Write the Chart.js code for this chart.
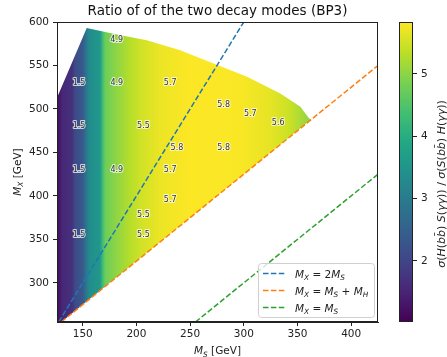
<!DOCTYPE html>
<html lang="en">
<head>
    <meta charset="UTF-8">
    <title>Ratio of of the two decay modes (BP3)</title>
    <script src="https://cdn.jsdelivr.net/npm/chart.js@4.4.0/dist/chart.umd.min.js"></script>
    <style>
        html, body { margin: 0; padding: 0; background: #fff; }
        .wrap { position: relative; width: 447px; height: 357px; }
        #main { position: absolute; left: 0; top: 0; }
        #cbar { position: absolute; left: 380px; top: 0; }
    </style>
</head>
<body>
<div class="wrap">
    <canvas id="main" width="447" height="357"></canvas>
    <canvas id="cbar" width="67" height="357"></canvas>
</div>
<script>
    // axis ranges and ticks
    const msRange = [126, 425]
    const mxRange = [255, 600]
    const msTicks = [150, 200, 250, 300, 350, 400]
    const mxTicks = [300, 350, 400, 450, 500, 550, 600]
    const cbRange = [1.02, 5.83]
    const cbTicks = [2, 3, 4, 5]

    // allowed region (M_S, M_X) outline
    const regionMs = [126, 130, 362.5, 360.5, 352.7, 334, 303, 271.8, 240.8, 209.7, 178.5, 153.7, 126]
    const regionMx = [255, 255, 487.5, 489.5, 502.5, 517.8, 536.9, 552.2, 567.5, 579, 586.6, 593.1, 513]

    // ratio read along M_S (colour of the map)
    const gradMs = [125.5, 128, 131, 140, 143, 150, 152, 156, 160, 166, 168.5, 171, 183, 194, 205, 222, 250, 297, 325, 343, 362]
    const gradRatio = [1.05, 1.3, 1.55, 1.7, 2.1, 2.35, 2.7, 3.3, 3.45, 3.55, 4.3, 4.75, 5.05, 5.3, 5.5, 5.7, 5.82, 5.8, 5.65, 5.45, 5.0]

    // printed values on the map
    const annMs = [181.6, 146.5, 181.7, 231.4, 281.2, 306, 332, 146.5, 206.5, 237.7, 281.2, 146.5, 181.7, 231.4, 231.4, 206.5, 146.5, 206.5]
    const annMx = [579.4, 529.7, 529.7, 529.7, 504.8, 494.5, 484.2, 480, 480, 455, 455, 429.5, 429.5, 429.5, 395, 378.7, 354.6, 354.6]
    const annVal = ['4.9', '1.5', '4.9', '5.7', '5.8', '5.7', '5.6', '1.5', '5.5', '5.8', '5.8', '1.5', '4.9', '5.7', '5.7', '5.5', '1.5', '5.5']

    // reference lines
    const blueMs = [127.5, 300]
    const blueMx = [255, 600]
    const orangeMs = [130, 425]
    const orangeMx = [255, 550]
    const greenMs = [255, 425]
    const greenMx = [255, 425]

    const FONT = "'DejaVu Sans', sans-serif"
    Chart.defaults.font.family = FONT
    Chart.defaults.font.size = 10.5
    Chart.defaults.color = '#222'

    const viridisLut = ['#440154', '#482475', '#414487', '#355f8d', '#2a788e', '#21918c',
        '#22a884', '#44bf70', '#7ad151', '#bddf26', '#fde725']

    function hexRgb(h) {
        return [parseInt(h.substr(1, 2), 16), parseInt(h.substr(3, 2), 16), parseInt(h.substr(5, 2), 16)]
    }

    function viridis(v) {
        let t = (v - cbRange[0]) / (cbRange[1] - cbRange[0])
        t = Math.max(0, Math.min(1, t)) * 10
        const i = Math.min(9, Math.floor(t))
        const f = t - i
        const a = hexRgb(viridisLut[i]), b = hexRgb(viridisLut[i + 1])
        const c = a.map((q, k) => Math.round(q + (b[k] - q) * f))
        return `rgb(${c[0]},${c[1]},${c[2]})`
    }

    function pts(xs, ys) {
        return xs.map((x, i) => ({x: x, y: ys[i]}))
    }

    // simple mathtext: letters italic, _X subscript
    function mt(str) {
        const parts = []
        for (let i = 0; i < str.length; i++) {
            let ch = str[i]
            let p
            if (ch === '_') {
                i++
                p = {t: str[i], it: true, sub: true}
            } else if (/[\u0300-\u036f]/.test(ch) && parts.length) {
                parts[parts.length - 1].t += ch
                continue
            } else {
                p = {t: ch, it: /[A-Za-zσγ]/.test(ch), sub: false}
            }
            const last = parts[parts.length - 1]
            if (last && last.it === p.it && last.sub === p.sub) last.t += p.t
            else parts.push(p)
        }
        return parts
    }

    function richFont(p, size) {
        return (p.it ? 'italic ' : '') + (p.sub ? size * 0.7 : size) + 'px ' + FONT
    }

    function richWidth(ctx, parts, size) {
        let w = 0
        parts.forEach(p => {
            ctx.font = richFont(p, size)
            w += ctx.measureText(p.t).width
        })
        return w
    }

    function drawRich(ctx, parts, x, y, size, center) {
        let cx = center ? x - richWidth(ctx, parts, size) / 2 : x
        ctx.textAlign = 'left'
        ctx.textBaseline = 'alphabetic'
        parts.forEach(p => {
            ctx.font = richFont(p, size)
            ctx.fillText(p.t, cx, p.sub ? y + size * 0.25 : y)
            cx += ctx.measureText(p.t).width
        })
    }

    function ratioGradient(chart) {
        if (!chart.chartArea) return 'rgba(0,0,0,0)'
        const xs = chart.scales.x
        const p0 = xs.getPixelForValue(gradMs[0])
        const p1 = xs.getPixelForValue(gradMs[gradMs.length - 1])
        const g = chart.ctx.createLinearGradient(p0, 0, p1, 0)
        gradMs.forEach((m, i) => {
            g.addColorStop((xs.getPixelForValue(m) - p0) / (p1 - p0), viridis(gradRatio[i]))
        })
        return g
    }

    function cbGradient(chart) {
        if (!chart.chartArea) return 'rgba(0,0,0,0)'
        const ys = chart.scales.y
        const p0 = ys.getPixelForValue(cbRange[0])
        const p1 = ys.getPixelForValue(cbRange[1])
        const g = chart.ctx.createLinearGradient(0, p0, 0, p1)
        viridisLut.forEach((c, i) => g.addColorStop(i / 10, c))
        return g
    }

    const framePlugin = {
        id: 'frame',
        afterDraw(chart) {
            const {ctx, chartArea: a} = chart
            ctx.save()
            ctx.strokeStyle = '#222'
            ctx.lineWidth = 1
            ctx.strokeRect(Math.round(a.left) + 0.5, Math.round(a.top) + 0.5,
                Math.round(a.right - a.left) - 1, Math.round(a.bottom - a.top) - 1)
            ctx.restore()
        }
    }

    const valuesPlugin = {
        id: 'values',
        afterDatasetsDraw(chart) {
            const {ctx, scales: {x, y}} = chart
            ctx.save()
            ctx.font = '8px ' + FONT
            ctx.textAlign = 'center'
            ctx.textBaseline = 'middle'
            ctx.lineJoin = 'round'
            annVal.forEach((v, i) => {
                const px = x.getPixelForValue(annMs[i])
                const py = y.getPixelForValue(annMx[i])
                ctx.strokeStyle = 'rgba(255,255,255,0.75)'
                ctx.lineWidth = 2
                ctx.strokeText(v, px, py)
                ctx.fillStyle = '#333'
                ctx.fillText(v, px, py)
            })
            ctx.restore()
        }
    }

    const legendPlugin = {
        id: 'mathLegend',
        afterDraw(chart) {
            const {ctx, chartArea: a} = chart
            const items = chart.data.datasets.filter(d => d.legendText)
            const w = 116, rowH = 17
            const h = items.length * rowH + 3
            const right = a.right - 4, bottom = a.bottom - 5
            const left = right - w, top = bottom - h
            ctx.save()
            ctx.fillStyle = 'rgba(255,255,255,0.8)'
            ctx.strokeStyle = '#d0d0d0'
            ctx.lineWidth = 1
            ctx.beginPath()
            ctx.roundRect(left + 0.5, top + 0.5, w, h, 3)
            ctx.fill()
            ctx.stroke()
            items.forEach((d, i) => {
                const cy = top + 10.5 + i * rowH
                ctx.strokeStyle = d.borderColor
                ctx.lineWidth = 1.5
                ctx.setLineDash([5.5, 2.4])
                ctx.beginPath()
                ctx.moveTo(left + 5, cy)
                ctx.lineTo(left + 27, cy)
                ctx.stroke()
                ctx.setLineDash([])
                ctx.fillStyle = '#222'
                drawRich(ctx, mt(d.legendText), left + 37, cy + 4, 10.5, false)
            })
            ctx.restore()
        }
    }

    const titlesPlugin = {
        id: 'titles',
        afterDraw(chart) {
            const {ctx, chartArea: a} = chart
            ctx.save()
            ctx.fillStyle = '#111'
            ctx.font = '13.5px ' + FONT
            ctx.textAlign = 'center'
            ctx.textBaseline = 'alphabetic'
            ctx.fillText('Ratio of of the two decay modes (BP3)', (a.left + a.right) / 2, 15)
            ctx.fillStyle = '#222'
            const xt = mt('M_S').concat([{t: ' [GeV]', it: false, sub: false}])
            drawRich(ctx, xt, (a.left + a.right) / 2, 354, 10.5, true)
            const yt = mt('M_X').concat([{t: ' [GeV]', it: false, sub: false}])
            ctx.translate(20.5, (a.top + a.bottom) / 2)
            ctx.rotate(-Math.PI / 2)
            drawRich(ctx, yt, 0, 0, 10.5, true)
            ctx.restore()
        }
    }

    const lineStyle = {borderWidth: 1.5, borderDash: [5.5, 2.4], pointRadius: 0, fill: false, tension: 0}

    new Chart(document.getElementById('main'), {
        type: 'line',
        data: {
            datasets: [
                Object.assign({label: 'MX = 2MS', legendText: 'M_X = 2M_S', data: pts(blueMs, blueMx), borderColor: '#1f77b4'}, lineStyle),
                Object.assign({label: 'MX = MS + MH', legendText: 'M_X = M_S + M_H', data: pts(orangeMs, orangeMx), borderColor: '#ff7f0e'}, lineStyle),
                Object.assign({label: 'MX = MS', legendText: 'M_X = M_S', data: pts(greenMs, greenMx), borderColor: '#2ca02c'}, lineStyle),
                {
                    label: 'ratio',
                    data: pts(regionMs, regionMx),
                    borderWidth: 0,
                    borderColor: 'rgba(0,0,0,0)',
                    pointRadius: 0,
                    tension: 0,
                    fill: 'shape',
                    backgroundColor: ctx => ratioGradient(ctx.chart)
                }
            ]
        },
        options: {
            responsive: false,
            animation: false,
            layout: {padding: {top: 22, right: 69, bottom: 0, left: 0}},
            plugins: {
                legend: {display: false},
                tooltip: {enabled: false},
                title: {display: false}
            },
            scales: {
                x: {
                    type: 'linear',
                    min: msRange[0],
                    max: msRange[1],
                    afterBuildTicks: s => { s.ticks = msTicks.map(v => ({value: v})) },
                    afterFit: s => { s.height = 35 },
                    grid: {drawOnChartArea: false, tickLength: 4, color: '#222'},
                    border: {color: '#222'},
                    ticks: {padding: 2, maxRotation: 0}
                },
                y: {
                    type: 'linear',
                    min: mxRange[0],
                    max: mxRange[1],
                    afterBuildTicks: s => { s.ticks = mxTicks.map(v => ({value: v})) },
                    afterFit: s => { s.width = 57 },
                    grid: {drawOnChartArea: false, tickLength: 4, color: '#222'},
                    border: {color: '#222'},
                    ticks: {padding: 4}
                }
            }
        },
        plugins: [valuesPlugin, framePlugin, legendPlugin, titlesPlugin]
    })

    const cbLabelPlugin = {
        id: 'cbLabel',
        afterDraw(chart) {
            const {ctx} = chart
            ctx.save()
            ctx.fillStyle = '#222'
            ctx.translate(64.5, 184)
            ctx.rotate(-Math.PI / 2)
            drawRich(ctx, mt('σ(H(bb\u0304) S(γγ)) / σ(S(bb\u0304) H(γγ))'), 0, 0, 11, true)
            ctx.restore()
        }
    }

    new Chart(document.getElementById('cbar'), {
        type: 'bar',
        data: {
            labels: [''],
            datasets: [{
                data: [cbRange],
                backgroundColor: ctx => cbGradient(ctx.chart),
                borderWidth: 0,
                barPercentage: 1,
                categoryPercentage: 1
            }]
        },
        options: {
            responsive: false,
            animation: false,
            layout: {padding: {left: 19, top: 22, bottom: 35, right: 0}},
            plugins: {legend: {display: false}, tooltip: {enabled: false}},
            scales: {
                x: {display: false},
                y: {
                    position: 'right',
                    min: cbRange[0],
                    max: cbRange[1],
                    afterBuildTicks: s => { s.ticks = cbTicks.map(v => ({value: v})) },
                    afterFit: s => { s.width = 34 },
                    grid: {drawOnChartArea: false, tickLength: 4, color: '#222'},
                    border: {display: false},
                    ticks: {padding: 4}
                }
            }
        },
        plugins: [framePlugin, cbLabelPlugin]
    })
</script>
</body>
</html>
